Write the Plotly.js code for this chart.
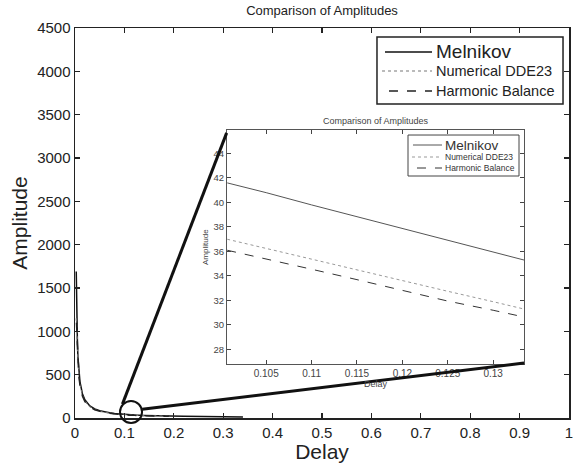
<!DOCTYPE html>
<html>
<head>
<meta charset="utf-8">
<script src="https://cdn.plot.ly/plotly-3.0.1.min.js"></script>
<style>html,body{margin:0;padding:0;background:#fff;}#chart{width:577px;height:464px;}</style>
</head>
<body>
<div id="chart"></div>
<script>
// Main plot data
const delayMain = [0.0025, 0.003, 0.004, 0.005, 0.006, 0.008, 0.01, 0.015, 0.02, 0.03, 0.04, 0.05, 0.06, 0.07, 0.08, 0.09, 0.1, 0.11, 0.12, 0.14, 0.16, 0.19, 0.22, 0.26, 0.3, 0.34];
const melnikovMain = [1690, 1400, 1050, 840, 700, 525, 420, 280, 210, 140, 105, 84, 70, 60, 52, 46, 42, 38, 35, 30, 26, 22, 19, 16, 14, 12.5];
const delayNum = [0.0025, 0.003, 0.004, 0.005, 0.006, 0.008, 0.01, 0.015, 0.02, 0.03, 0.04, 0.05, 0.06, 0.07, 0.08, 0.09, 0.1, 0.11, 0.12, 0.14, 0.16, 0.19];
const numericalMain = [1150, 1120, 960, 770, 650, 490, 390, 262, 196, 131, 98, 78, 65, 56, 48, 42, 37, 34, 31, 27, 23.5, 20];
const delayHarm = [0.003, 0.004, 0.005, 0.006, 0.008, 0.01, 0.015, 0.02, 0.03, 0.04, 0.05, 0.06, 0.07, 0.08, 0.09, 0.1, 0.11, 0.12, 0.14, 0.16, 0.19];
const harmonicMain = [1100, 940, 750, 630, 475, 380, 255, 190, 127, 95, 76, 63, 54, 47, 41, 36, 33, 30.5, 26, 23, 19.5];

// Inset (zoom) data
const delayInset = [0.1007, 0.105, 0.11, 0.115, 0.12, 0.125, 0.13, 0.1334];
const melnikovInset = [41.6, 40.8, 39.8, 38.85, 37.9, 36.95, 36.0, 35.3];
const numericalInset = [37.0, 36.25, 35.35, 34.45, 33.6, 32.75, 31.9, 31.3];
const harmonicInset = [36.1, 35.4, 34.55, 33.7, 32.8, 31.95, 31.2, 30.65];

const seriesNames = ['Melnikov', 'Numerical DDE23', 'Harmonic Balance'];
const xTicksMain = [0, 0.1, 0.2, 0.3, 0.4, 0.5, 0.6, 0.7, 0.8, 0.9, 1];
const yTicksMain = [0, 500, 1000, 1500, 2000, 2500, 3000, 3500, 4000, 4500];
const xTicksInset = [0.105, 0.11, 0.115, 0.12, 0.125, 0.13];
const xTickLabelsInset = ['0.105', '0.11', '0.115', '0.12', '0.125', '0.13'];
const yTicksInset = [28, 30, 32, 34, 36, 38, 40, 42, 44];

const F = '"Liberation Sans", Arial, sans-serif';

const mainStyles = [
  {color: '#111', width: 1.5, dash: 'solid'},
  {color: '#777', width: 1.2, dash: 'dot'},
  {color: '#222', width: 1.5, dash: 'dash'}
];
const insetStyles = [
  {color: '#555', width: 1, dash: 'solid'},
  {color: '#999', width: 1, dash: 'dot'},
  {color: '#333', width: 1, dash: 'dash'}
];

const traces = [
  {x: delayMain, y: melnikovMain, mode: 'lines', name: seriesNames[0], line: mainStyles[0], xaxis: 'x', yaxis: 'y'},
  {x: delayNum, y: numericalMain, mode: 'lines', name: seriesNames[1], line: mainStyles[1], xaxis: 'x', yaxis: 'y'},
  {x: delayHarm, y: harmonicMain, mode: 'lines', name: seriesNames[2], line: mainStyles[2], xaxis: 'x', yaxis: 'y'},
  {x: delayInset, y: melnikovInset, mode: 'lines', name: seriesNames[0], line: insetStyles[0], xaxis: 'x2', yaxis: 'y2'},
  {x: delayInset, y: numericalInset, mode: 'lines', name: seriesNames[1], line: insetStyles[1], xaxis: 'x2', yaxis: 'y2'},
  {x: delayInset, y: harmonicInset, mode: 'lines', name: seriesNames[2], line: insetStyles[2], xaxis: 'x2', yaxis: 'y2'}
];

// Hand-drawn legends (paper coordinates)
const shapes = [
  {type: 'line', xref: 'x', yref: 'y', x0: 0.096, y0: 160, x1: 0.307, y1: 3290, line: {color: '#111', width: 3}},
  {type: 'line', xref: 'x', yref: 'y', x0: 0.136, y0: 100, x1: 0.909, y1: 634, line: {color: '#111', width: 3}},
  {type: 'circle', xref: 'paper', yref: 'paper', x0: 0.0911, x1: 0.1357, y0: -0.0128, y1: 0.0436, line: {color: '#111', width: 2}},
  // main legend box
  {type: 'rect', xref: 'paper', yref: 'paper', x0: 0.6113, x1: 0.9879, y0: 0.8051, y1: 0.9769,
   line: {color: '#222', width: 1.5}, fillcolor: '#fff', layer: 'above'},
  // inset legend box
  {type: 'rect', xref: 'paper', yref: 'paper', x0: 0.6741, x1: 0.8988, y0: 0.6205, y1: 0.7256,
   line: {color: '#444', width: 1}, fillcolor: '#fff', layer: 'above'}
];
const annotations = [
  {text: 'Comparison of Amplitudes', xref: 'paper', yref: 'paper', x: 0.609, y: 0.762,
   showarrow: false, font: {size: 9, family: F, color: '#444'}, xanchor: 'center', yanchor: 'middle'}
];
const mainRows = [0.9385, 0.8897, 0.8385];
const mainSampleX0 = [0.6275, 0.6215, 0.6356];
const mainFont = [19, 14.5, 14.5];
const insetRows = [0.700, 0.6692, 0.641];
const insetSampleX0 = [0.6842, 0.6822, 0.6923];
const insetFont = [13.5, 8.5, 8.5];
for (let i = 0; i < 3; i++) {
  shapes.push({type: 'line', xref: 'paper', yref: 'paper', x0: mainSampleX0[i], x1: 0.7227, y0: mainRows[i], y1: mainRows[i],
               line: Object.assign({}, mainStyles[i], {width: i === 1 ? 1.2 : 1.6}), layer: 'above'});
  annotations.push({text: seriesNames[i], xref: 'paper', yref: 'paper', x: 0.7267, y: mainRows[i], xanchor: 'left', yanchor: 'middle',
                    showarrow: false, font: {size: mainFont[i], family: F, color: '#222'}});
  shapes.push({type: 'line', xref: 'paper', yref: 'paper', x0: insetSampleX0[i], x1: 0.7429, y0: insetRows[i], y1: insetRows[i],
               line: insetStyles[i], layer: 'above'});
  annotations.push({text: seriesNames[i], xref: 'paper', yref: 'paper', x: 0.7449, y: insetRows[i], xanchor: 'left', yanchor: 'middle',
                    showarrow: false, font: {size: insetFont[i], family: F, color: '#333'}});
}

const layout = {
  width: 577, height: 464,
  margin: {l: 75, r: 8, t: 28, b: 46},
  paper_bgcolor: '#fff', plot_bgcolor: 'rgba(0,0,0,0)',
  font: {family: F, color: '#222'},
  showlegend: false,
  title: {text: 'Comparison of Amplitudes', font: {size: 13, family: F, color: '#222'},
          x: 0.5, xref: 'paper', y: 0.977, yref: 'container', yanchor: 'middle'},
  xaxis: {domain: [0, 1], range: [0, 1], tickvals: xTicksMain, ticktext: xTicksMain.map(String),
          ticks: 'inside', ticklen: 5, tickwidth: 1.2, tickcolor: '#222', mirror: 'ticks',
          showline: true, linecolor: '#222', linewidth: 1.5, showgrid: false, zeroline: false,
          tickfont: {size: 15, family: F, color: '#222'},
          title: {text: 'Delay', font: {size: 21, family: F, color: '#222'}, standoff: 5}},
  yaxis: {domain: [0, 1], range: [0, 4500], tickvals: yTicksMain, ticktext: yTicksMain.map(String),
          ticks: 'inside', ticklen: 5, tickwidth: 1.2, tickcolor: '#222', mirror: 'ticks',
          showline: true, linecolor: '#222', linewidth: 1.5, showgrid: false, zeroline: false,
          tickfont: {size: 15, family: F, color: '#222'},
          title: {text: 'Amplitude', font: {size: 21, family: F, color: '#222'}, standoff: 4}},
  xaxis2: {domain: [0.308, 0.909], anchor: 'y2', range: [0.1007, 0.1334], tickvals: xTicksInset, ticktext: xTickLabelsInset,
          ticks: 'inside', ticklen: 4, tickcolor: '#444', mirror: 'ticks',
          showline: true, linecolor: '#555', linewidth: 1.2, showgrid: false, zeroline: false,
          tickfont: {size: 10, family: F, color: '#444'},
          title: {text: 'Delay', font: {size: 9, family: F, color: '#444'}, standoff: 2}},
  yaxis2: {domain: [0.138, 0.738], anchor: 'x2', range: [26.8, 45.9], tickvals: yTicksInset, ticktext: yTicksInset.map(String),
          ticks: 'inside', ticklen: 4, tickcolor: '#444', mirror: 'ticks',
          showline: true, linecolor: '#555', linewidth: 1.2, showgrid: false, zeroline: false,
          tickfont: {size: 9.5, family: F, color: '#444'},
          title: {text: 'Amplitude', font: {size: 8, family: F, color: '#444'}, standoff: 3}},
  annotations: annotations,
  shapes: shapes
};

Plotly.newPlot('chart', traces, layout, {staticPlot: true, displayModeBar: false});
</script>
</body>
</html>
